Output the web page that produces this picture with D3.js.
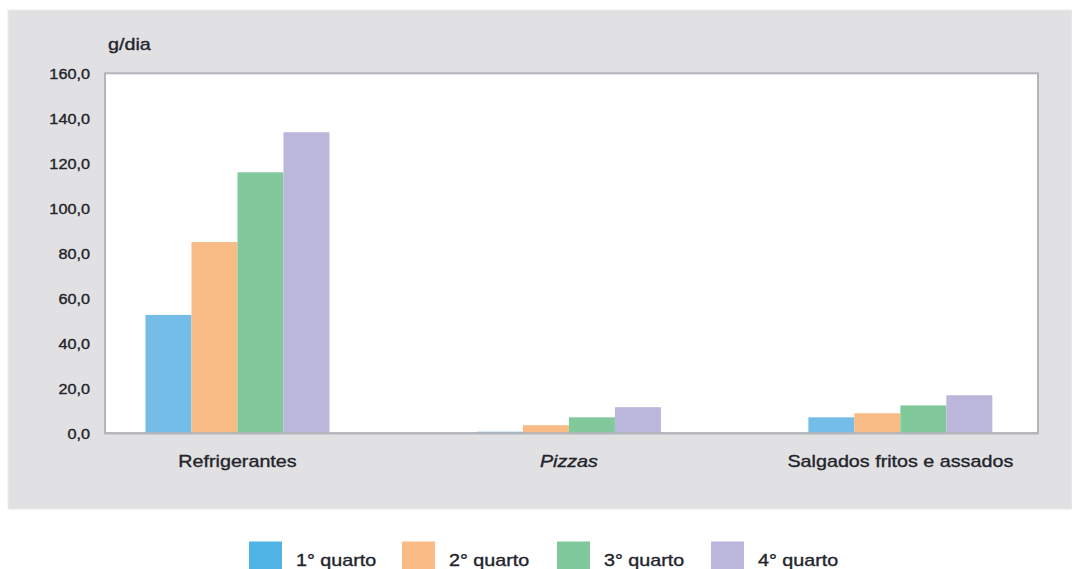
<!DOCTYPE html>
<html>
<head>
<meta charset="utf-8">
<script src="https://cdn.jsdelivr.net/npm/d3@7"></script>
<style>
  html, body { margin: 0; padding: 0; background: #ffffff; }
  svg { display: block; }
  text { font-family: "Liberation Sans", Arial, sans-serif; fill: #23232b; }
</style>
</head>
<body>
<svg id="chart" width="1072" height="569"></svg>
<script>
// ---- data ----
const categories = ["Refrigerantes", "Pizzas", "Salgados fritos e assados"];
const seriesNames = ["1° quarto", "2° quarto", "3° quarto", "4° quarto"];
const q1 = [52.6, 0.7, 7.1];
const q2 = [85.0, 3.6, 8.9];
const q3 = [116.0, 7.1, 12.4];
const q4 = [133.8, 11.6, 16.9];
const yTicks = [0, 20, 40, 60, 80, 100, 120, 140, 160];
const yTitle = "g/dia";
const barColors = ["#75bde9", "#f9bb86", "#81c99b", "#bab6dc"];
const legendColors = ["#4fb3e5", "#fbbb86", "#80c99b", "#bab6dc"];

const series = [q1, q2, q3, q4];

const svg = d3.select("#chart");
const SX = 1.16; // horizontal text stretch

// panel
svg.append("rect").attr("x", 8).attr("y", 10).attr("width", 1064).attr("height", 499)
  .attr("fill", "#e1e1e3").attr("stroke", "#ebebec").attr("stroke-width", 1);

const plot = { left: 105, right: 1038, top: 73.3, bottom: 433.3 };

const y = d3.scaleLinear().domain([0, 160]).range([plot.bottom, plot.top]);
const x0 = d3.scaleBand().domain(categories).range([plot.left, plot.right])
  .paddingInner(0.445).paddingOuter(0.13).align(0.47);
const x1 = d3.scaleBand().domain(d3.range(series.length)).range([0, x0.bandwidth()]).padding(0);

// plot area
svg.append("rect").attr("x", plot.left).attr("y", plot.top)
  .attr("width", plot.right - plot.left).attr("height", plot.bottom - plot.top)
  .attr("fill", "#ffffff").attr("stroke", "#b3b5ba").attr("stroke-width", 2);

// bars
const g = svg.append("g");
categories.forEach((c, ci) => {
  series.forEach((s, si) => {
    g.append("rect")
      .attr("x", x0(c) + x1(si))
      .attr("y", y(s[ci]))
      .attr("width", x1.bandwidth())
      .attr("height", y(0) - y(s[ci]))
      .attr("fill", barColors[si]);
  });
});

// redraw bottom axis line over bars
svg.append("line").attr("x1", plot.left).attr("x2", plot.right)
  .attr("y1", plot.bottom).attr("y2", plot.bottom)
  .attr("stroke", "#b3b5ba").attr("stroke-width", 2);

function stretchedText(parent, x, yPos, str, size, anchor, italic) {
  const t = parent.append("text")
    .attr("transform", `translate(${x},${yPos}) scale(${SX},1)`)
    .attr("font-size", size)
    .attr("text-anchor", anchor)
    .style("stroke", "#23232b").style("stroke-width", 0.35)
    .text(str);
  if (italic) t.attr("font-style", "italic");
  return t;
}

// y axis labels
const fmt = v => d3.format(".1f")(v).replace(".", ",");
const yAxis = d3.axisLeft(y).tickValues(yTicks).tickSize(0).tickFormat(fmt);
const ya = svg.append("g").attr("transform", `translate(${plot.left},0)`).call(yAxis);
ya.select(".domain").remove();
ya.selectAll(".tick text").each(function() {
  const el = d3.select(this);
  el.attr("x", null).attr("dy", null).attr("font-size", null)
    .attr("transform", `translate(-15,0) scale(${SX},1)`)
    .attr("dy", "0.36em")
    .attr("text-anchor", "end")
    .style("font-size", "14px")
    .style("font-family", "'Liberation Sans', Arial, sans-serif")
    .style("fill", "#23232b")
    .style("stroke", "#23232b").style("stroke-width", 0.35);
});

// y title
stretchedText(svg, 108, 50, yTitle, 17, "start", false);

// category labels
categories.forEach(c => {
  stretchedText(svg, x0(c) + x0.bandwidth() / 2, 467, c, 17, "middle", c === "Pizzas");
});

// legend
const legendPos = [249, 402, 557, 711];
seriesNames.forEach((n, i) => {
  svg.append("rect").attr("x", legendPos[i]).attr("y", 541.5).attr("width", 33).attr("height", 30)
    .attr("fill", legendColors[i]);
  stretchedText(svg, legendPos[i] + 47, 566, n, 17, "start", false);
});
</script>
</body>
</html>
